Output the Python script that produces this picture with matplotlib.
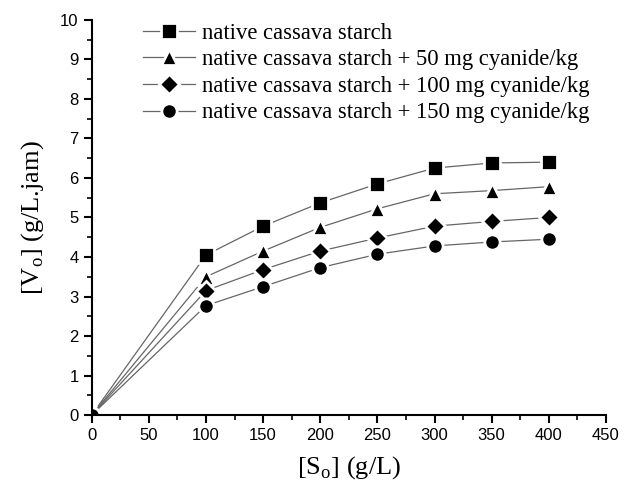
import matplotlib
import matplotlib.pyplot as plt
import numpy as np

matplotlib.use("Agg")

substrate = [0, 100, 150, 200, 250, 300, 350, 400]
native = [0, 4.05, 4.78, 5.37, 5.85, 6.25, 6.38, 6.40]
cyanide_50 = [0, 3.50, 4.15, 4.75, 5.22, 5.60, 5.68, 5.78]
cyanide_100 = [0, 3.15, 3.68, 4.15, 4.48, 4.78, 4.90, 5.00]
cyanide_150 = [0, 2.77, 3.25, 3.73, 4.07, 4.28, 4.38, 4.45]

labels = [
    "native cassava starch",
    "native cassava starch + 50 mg cyanide/kg",
    "native cassava starch + 100 mg cyanide/kg",
    "native cassava starch + 150 mg cyanide/kg",
]
series = [native, cyanide_50, cyanide_100, cyanide_150]
markers = ["s", "^", "D", "o"]
sizes = [11, 12, 10, 11]

plt.rcParams["mathtext.fontset"] = "custom"
plt.rcParams["mathtext.rm"] = "Liberation Serif"

fig = plt.figure(figsize=(6.24, 4.86), dpi=100)
ax = fig.add_axes([0.147, 0.146, 0.824, 0.813])

for vals, lab, m, ms in zip(series, labels, markers, sizes):
    ax.plot(substrate, vals, color="#666666", linewidth=0.9, marker=m,
            markersize=ms, markerfacecolor="black", markeredgecolor="white",
            markeredgewidth=2.0, label=lab)

ax.set_xlim(0, 450)
ax.set_ylim(0, 10)
ax.set_xticks(np.arange(0, 451, 50))
ax.set_xticks(np.arange(25, 451, 50), minor=True)
ax.set_yticks(np.arange(0, 11, 1))
ax.set_yticks(np.arange(0.5, 10, 1), minor=True)

for side in ["top", "right"]:
    ax.spines[side].set_visible(False)
for side in ["left", "bottom"]:
    ax.spines[side].set_linewidth(1.5)

ax.tick_params(which="major", direction="out", length=6, width=1.5,
               labelsize=12)
ax.tick_params(which="minor", direction="out", length=3.5, width=1.2)
for t in ax.get_xticklabels() + ax.get_yticklabels():
    t.set_family("Liberation Sans")

ax.set_xlabel(r"[S$_\mathrm{o}$] (g/L)", family="Liberation Serif",
              fontsize=19, labelpad=8)
ax.set_ylabel(r"[V$_\mathrm{o}$] (g/L.jam)", family="Liberation Serif",
              fontsize=19, labelpad=10)

leg = ax.legend(loc="upper left", bbox_to_anchor=(0.06, 1.045), frameon=False,
                prop={"family": "Liberation Serif", "size": 16.3},
                handlelength=2.3, labelspacing=0.25, handletextpad=0.3)

plt.savefig("out.png", dpi=100)
plt.close()
